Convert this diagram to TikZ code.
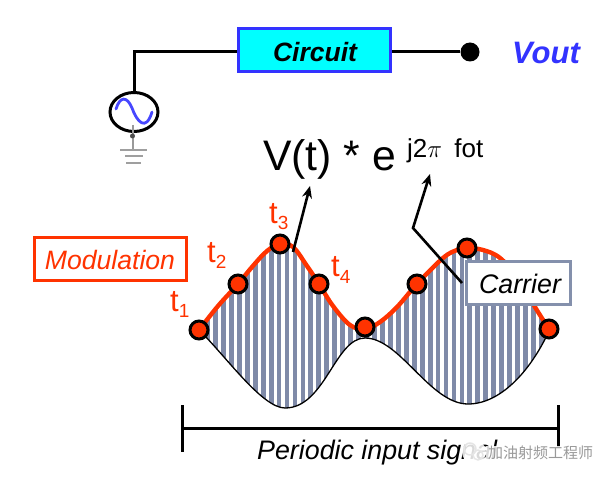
\documentclass[tikz,border=0pt]{standalone}
\usepackage{fontspec}
\setmainfont{Liberation Sans}
\newfontfamily\cjkfont{Noto Sans CJK SC}
\usetikzlibrary{arrows.meta,calc,shapes.geometric}
\definecolor{modred}{HTML}{FF3300}
\definecolor{stripeblue}{HTML}{7F8AA8}
\definecolor{boxblue}{HTML}{3333FF}
\definecolor{boxcyan}{HTML}{00FFFF}
\definecolor{carrierframe}{HTML}{8490AC}
\newcommand{\fsz}[1]{\fontsize{#1}{#1}\selectfont}
% Outline of the modulated signal: upper and lower envelopes
\newcommand{\upperenv}{(199,330) (218,306) (238,284) (252,267) (267,251) (280,244) (293,247) (307,266) (319,284) (333,306) (350,325) (365,329) (380,322) (397,307) (417,284) (443,258) (457,250) (467,248) (483,250) (500,258) (520,280) (535,307) (549,329)}
\newcommand{\lowerenv}{(549,331) .. controls (530,372) and (500,404) .. (468,404) .. controls (430,404) and (400,338) .. (365,338) .. controls (335,338) and (325,408) .. (285,408) .. controls (262,408) and (225,355) .. (199,330)}
\tikzset{
  wire/.style={line width=3pt,black},
  pulse/.style={circle,draw=black,line width=3pt,fill=modred,minimum size=18pt,inner sep=0pt},
  ticklabel/.style={text=modred,inner sep=0pt,font=\fsz{31}},
  groundplate/.style={line width=1.8pt,gray!75},
  pointer/.style={line width=2.6pt,black,-{Stealth[length=12pt,width=10pt]}},
  waymark/.style={text=gray!80,inner sep=0pt,font=\cjkfont\fsz{15}}
}
\begin{document}
\begin{tikzpicture}[x=1pt,y=-1pt]
\useasboundingbox (0,0) rectangle (611,481);

% Source, feed wire and output terminal
\node[draw=boxblue,line width=3pt,fill=boxcyan,minimum width=152pt,minimum height=43pt,inner sep=0pt] (circuit) at (314.5,50) {};
\node[inner sep=0pt,font=\bfseries\itshape\fsz{26.5}] (circuitlabel) at (315,52) {Circuit};
\node[draw=black,line width=3pt,ellipse,fill=white,minimum width=48pt,minimum height=39pt,inner sep=0pt] (source) at (134,112) {};
\coordinate (corner) at (134,52);
\node[circle,fill=black,minimum size=19pt,inner sep=0pt] (vout) at (470,52) {};
\draw[wire] (source.north) -- (corner) -- (circuit.west|-corner);
\draw[wire] (circuit.east|-vout) -- (vout);
\node[text=boxblue,inner sep=0pt,font=\bfseries\itshape\fsz{31}] (voutlabel) at (546,53) {Vout};
\draw[line width=2.8pt,boxblue!90!white,line cap=round] (116,109) .. controls (120,96) and (127,96) .. (132,108) .. controls (137,122) and (146,132) .. (152,112);

% Ground symbol
\coordinate (gtop) at (133,125);
\coordinate (gbase) at (133,150);
\draw[line width=1.4pt,gray!80] (gtop) -- (gbase);
\node[circle,fill=black!70,minimum size=5pt,inner sep=0pt] (gdot) at (132.5,136) {};
\draw[groundplate] (120,150) -- (147,150) (125,156) -- (143,156) (126,163) -- (141,163);

% Striped body of the signal, clipped to its envelopes
\begin{scope}
  \clip plot[smooth,tension=.6] coordinates {\upperenv} -- \lowerenv -- cycle;
  \foreach \k in {-6,...,40} {
    \fill[stripeblue] ({239.3+7.95*\k-2.4},230) rectangle ({239.3+7.95*\k+2.4},420);
  }
\end{scope}
\draw[line width=1.3pt,black] \lowerenv;
\draw[line width=4.4pt,modred,line join=round] plot[smooth,tension=.6] coordinates {\upperenv};

% Expression and its pointers
\node[anchor=base west,inner sep=0pt,font=\fsz{42.7}] (expr) at (263,171) {V(t) * e};
\node[anchor=base west,inner sep=0pt,font=\fsz{26}] (expo) at (407,158) {j2$\pi$\hspace{5pt} fot};
\coordinate (bend) at (413,228);
\node[draw=carrierframe,line width=3pt,fill=white,minimum width=104pt,minimum height=43pt,inner sep=0pt] (carrier) at (518.5,283) {};
\node[inner sep=0pt,font=\itshape\fsz{26.8}] (carrierlabel) at (520,284) {Carrier};
\coordinate (carrierfoot) at (462,283);
\coordinate (carriertip) at (430,174);
\coordinate (exprfoot) at (293,252);
\coordinate (exprtip) at (310,186);
\draw[pointer] (exprfoot) -- (exprtip);
\draw[pointer,line join=miter] (carrierfoot) -- (bend) -- (carriertip);

% Sample points and their labels
\node[pulse] (t1) at (199,330) {};
\node[pulse] (t2) at (238,284) {};
\node[pulse] (t3) at (280,244) {};
\node[pulse] (t4) at (319,284) {};
\node[pulse] (p5) at (365,327) {};
\node[pulse] (p6) at (417,284) {};
\node[pulse] (p7) at (467,248) {};
\node[pulse] (p8) at (549,329) {};
\node[ticklabel,anchor=base west] (l1) at (170,312) {t\raisebox{-6pt}{\fsz{19}1}};
\node[ticklabel,anchor=base west] (l2) at (207,263) {t\raisebox{-6pt}{\fsz{19}2}};
\node[ticklabel,anchor=base west] (l3) at (269,224) {t\raisebox{-6pt}{\fsz{19}3}};
\node[ticklabel,anchor=base west] (l4) at (331,277) {t\raisebox{-6pt}{\fsz{19}4}};

% Modulation label
\node[draw=modred,line width=3pt,fill=white,minimum width=152pt,minimum height=43pt,inner sep=0pt] (modbox) at (110,259.5) {};
\node[text=modred,inner sep=0pt,font=\itshape\fsz{26.6}] (modlabel) at (110,260) {Modulation};

% Span bracket and its caption
\coordinate (ltop) at (182,405);
\coordinate (lbot) at (182,452);
\coordinate (rtop) at (558,405);
\coordinate (rbot) at (558,447);
\coordinate (lmid) at (182,428);
\coordinate (rmid) at (558,428);
\draw[wire] (ltop) -- (lbot) (lmid) -- (rmid) (rtop) -- (rbot);
\node[anchor=base west,inner sep=0pt,font=\itshape\fsz{26.8}] (span) at (257,459) {Periodic input signal};

% Watermark with its small badge
\fill[white,opacity=.85] (474,452) circle (12pt);
\draw[white!80!gray,line width=1.4pt] (470,449) circle (6pt);
\draw[white!80!gray,line width=1.4pt] (478,455) circle (5pt);
\fill[white,opacity=.85] (486,446) rectangle (593,462);
\node[anchor=base west,waymark] (mark) at (488,458) {加油射频工程师};
\end{tikzpicture}
\end{document}
